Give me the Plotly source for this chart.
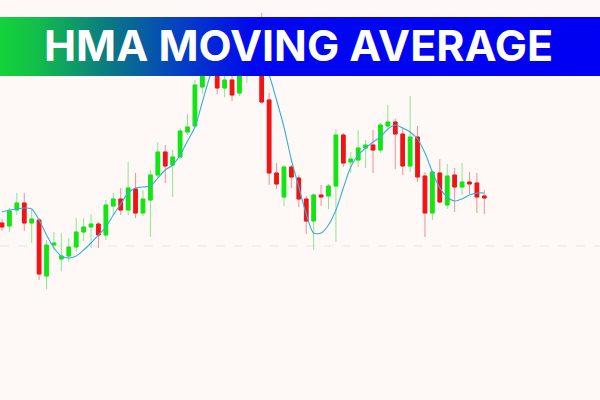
import plotly.graph_objects as go

# ---- data (price units) ----
idx = list(range(66))
open_ = [177,174,190,197,177,180,124,155,141,144,153,168,173,176,165,194,201,190,211,187,
         200,225,248,235,243,268,274,313,342,365,312,320,307,330,360,352,300,227,203,233,
         222,201,179,205,204,214,265,238,240,252,255,250,274,278,266,234,263,224,187,227,
         195,225,213,218,217,204]
high = [181,192,207,207,190,182,160,168,167,162,182,182,186,178,200,207,212,238,227,210,
        230,258,255,250,272,286,320,348,378,372,330,328,360,370,375,387,307,237,235,235,
        225,204,207,215,216,271,267,248,270,260,270,277,295,281,272,304,274,228,230,241,
        236,232,237,228,227,210]
low = [169,168,185,169,157,120,111,150,129,138,148,159,152,152,160,185,185,185,182,184,
       163,222,217,203,241,265,272,306,335,306,303,299,304,317,332,296,215,211,194,212,
       193,166,150,194,191,158,233,227,233,232,227,247,272,231,225,228,218,163,180,197,
       191,188,205,206,187,186]
close = [173,189,197,177,181,126,155,157,144,153,168,173,176,165,195,201,190,212,187,201,
         225,248,234,243,269,273,315,342,370,312,320,305,350,360,345,298,227,216,233,223,
         201,179,205,203,214,265,237,241,252,255,250,275,278,266,234,263,223,187,228,198,
         224,213,218,216,203,202]
hma = [188,190,191,192,191,180,165,152,144,142,144,150,157,165,173,185,196,207,212,213,
       214,222,230,235,245,259,273,298,323,342,355,362,365,363,355,342,325,300,273,240,
       213,186,167,167,175,190,212,233,245,252,258,263,271,275,272,268,261,247,228,212,
       203,199,201,205,207,207]
reference_level = 154
title_text = "HMA MOVING AVERAGE"

body_high = [max(o, c) for o, c in zip(open_, close)]
body_low = [min(o, c) for o, c in zip(open_, close)]

X0, X1 = -0.27, 80.59
BG = "#fef8f7"

fig = go.Figure()

# wicks (lighter)
fig.add_trace(go.Candlestick(
    x=idx, open=open_, high=high, low=low, close=close,
    increasing=dict(line=dict(color="#8ce88c", width=1), fillcolor="#8ce88c"),
    decreasing=dict(line=dict(color="#f29090", width=1), fillcolor="#f29090"),
    hoverinfo="skip", showlegend=False))
# bodies
fig.add_trace(go.Candlestick(
    x=idx, open=open_, high=body_high, low=body_low, close=close,
    increasing=dict(line=dict(color="#12e612", width=1), fillcolor="#12e612"),
    decreasing=dict(line=dict(color="#f01414", width=1), fillcolor="#f01414"),
    hoverinfo="skip", showlegend=False))

# HMA line
fig.add_trace(go.Scatter(
    x=idx, y=hma, mode="lines",
    line=dict(color="#35ade2", width=1.1, shape="spline", smoothing=0.8),
    hoverinfo="skip", showlegend=False))

# banner with horizontal gradient
fig.add_trace(go.Scatter(
    x=[X0, X1, X1, X0, X0], y=[383, 383, 324, 324, 383],
    mode="lines", line=dict(width=0), fill="toself",
    fillgradient=dict(type="horizontal",
                      colorscale=[[0, "#14d23a"], [0.06, "#12bf4a"], [0.18, "#0a7a82"],
                                  [0.3, "#0440c4"], [0.42, "#0008ee"], [1, "#0000f2"]]),
    hoverinfo="skip", showlegend=False))

fig.add_shape(type="line", xref="paper", x0=0, x1=1, yref="y",
              y0=reference_level, y1=reference_level,
              line=dict(color="#ebe3e3", width=1, dash="dash"), layer="below")

fig.add_annotation(text=title_text, xref="paper", yref="paper", x=0.497, y=1 - 45 / 400,
                   showarrow=False, xanchor="center", yanchor="middle",
                   font=dict(family="Inter", size=43, color="white", weight=700))

fig.update_layout(
    width=600, height=400, margin=dict(l=0, r=0, t=0, b=0),
    paper_bgcolor=BG, plot_bgcolor=BG, boxmode="overlay",
    xaxis=dict(range=[X0, X1], visible=False, rangeslider=dict(visible=False), fixedrange=True),
    yaxis=dict(range=[0, 400], visible=False, fixedrange=True),
)

fig.write_html("out.html", config={"displayModeBar": False},
               post_script="document.body.style.margin='0';document.body.style.background='%s';" % BG)
